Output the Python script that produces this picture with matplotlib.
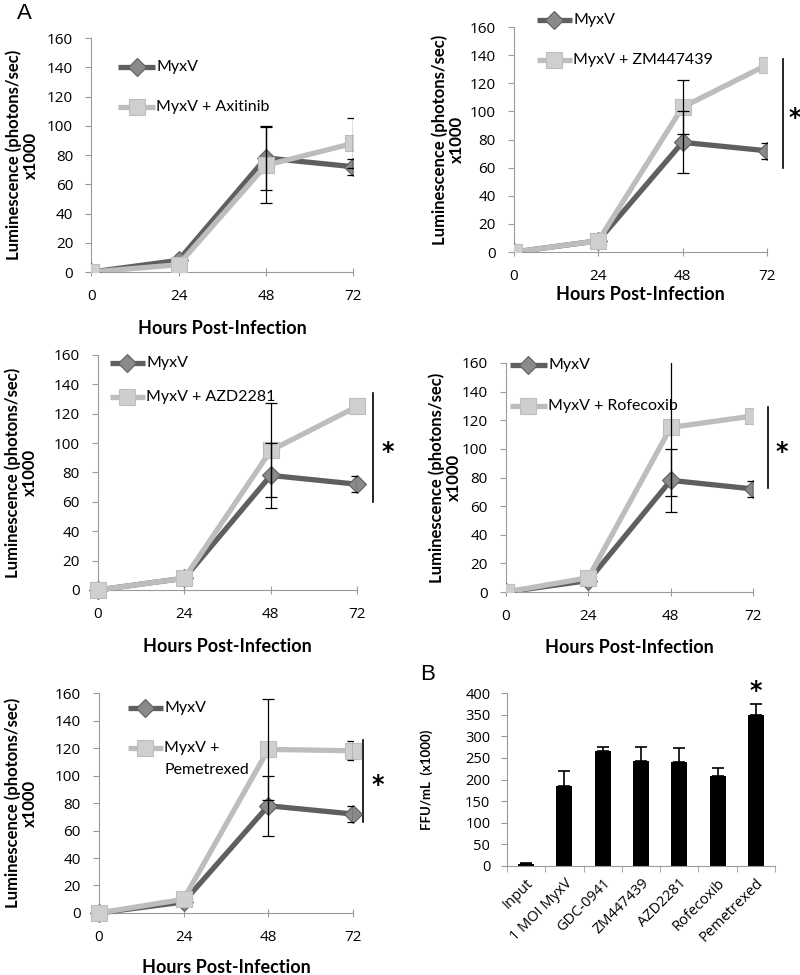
import matplotlib.pyplot as plt
import matplotlib.transforms as mtransforms
import numpy as np

plt.rcParams['font.family'] = ['Lato', 'DejaVu Sans']

hours = [0, 24, 48, 72]
myxv = [0, 8, 78, 72]
myxv_err = [0, 0, 22, 5.5]

drug_names = ['MyxV + Axitinib', 'MyxV + ZM447439', 'MyxV + AZD2281',
              'MyxV + Rofecoxib', 'MyxV +\nPemetrexed']
drug_values = [
    [0, 5, 73, 88],
    [0, 8, 103, 133],
    [0, 8, 95, 125],
    [0, 10, 115, 123],
    [0, 10, 119, 118],
]
drug_errs = [
    [0, 0, 26, 17],
    [0, 0, 19, 0],
    [0, 0, 32, 0],
    [0, 0, 48, 0],
    [0, 0, 37, 7],
]
# significance bar (y range) per panel, None = no star
sig_ranges = [None, (60, 137), (60, 134), (73, 129), (66, 126)]

bar_labels = ['Input', '1 MOI MyxV', 'GDC-0941', 'ZM447439', 'AZD2281',
              'Rofecoxib', 'Pemetrexed']
ffu = [5, 185, 265, 243, 241, 209, 350]
ffu_err = [2, 35, 11, 33, 32, 17, 24]

DARK = '#5f5f5f'
DARK_MK = '#8a8a8a'
LIGHT = '#bdbdbd'
LIGHT_MK = '#cfcfcf'
SPINE = '#9a9a9a'
TICKFONT = 'Open Sans'

fig = plt.figure(figsize=(8, 9.75), dpi=100)

# axes rects [left, bottom, width, height]
rects = [
    [0.114, 0.721, 0.3275, 0.240],
    [0.6425, 0.7415, 0.316, 0.2308],
    [0.1225, 0.3949, 0.324, 0.241],
    [0.6325, 0.3928, 0.309, 0.2349],
    [0.12375, 0.0636, 0.3175, 0.2256],
]
# legend layout: x0, x1, y_myxv, y_drug (axes fraction)
leg_pos = [
    (0.103, 0.244, 0.876, 0.705),
    (0.091, 0.229, 1.031, 0.853),
    (0.046, 0.181, 0.966, 0.821),
    (0.016, 0.166, 0.991, 0.812),
    (0.114, 0.252, 0.932, 0.750),
]
ylab_x = [-0.20, -0.194, -0.232, -0.178, -0.24]
xlab_y = [-0.205, -0.15, -0.205, -0.205, -0.21]
line_x = [None, 1.063, 1.062, 1.061, 1.039]
star_x = [None, 1.11, 1.116, 1.117, 1.098]
clip_first = [True, True, False, True, False]


def leg_entry(ax, x0, x1, y, color, mcolor, marker, ms, label):
    ax.plot([x0, x1], [y, y], color=color, lw=3.8, transform=ax.transAxes,
            clip_on=False, solid_capstyle='butt')
    ax.plot([(x0 + x1) / 2], [y], marker=marker, ms=ms, mfc=mcolor,
            mec=color, mew=0.8, transform=ax.transAxes, clip_on=False)
    ax.text(x1 + 0.005, y, label, transform=ax.transAxes, fontsize=11.5,
            va='center', ha='left')


def err_bars(ax, xs, ys, es):
    keep = [k for k in range(len(es)) if es[k] > 0]
    ax.errorbar([xs[k] for k in keep], [ys[k] for k in keep],
                yerr=[es[k] for k in keep], fmt='none', ecolor='black',
                elinewidth=0.9, capsize=4, capthick=0.9, zorder=5)


for i in range(5):
    ax = fig.add_axes(rects[i])
    vals = drug_values[i]

    ax.plot(hours, myxv, color=DARK, lw=3.8, marker='D', ms=9, mfc=DARK_MK,
            mec=DARK, mew=0.8, zorder=3, clip_on=clip_first[i])
    ax.plot(hours, vals, color=LIGHT, lw=3.8, marker='s', ms=12, mfc=LIGHT_MK,
            mec=LIGHT, mew=0.8, zorder=4, clip_on=clip_first[i])
    err_bars(ax, hours, myxv, myxv_err)
    err_bars(ax, hours, vals, drug_errs[i])

    ax.set_xlim(0, 72)
    ax.set_ylim(0, 160)
    ax.set_xticks(hours)
    ax.set_yticks(range(0, 161, 20))
    ax.tick_params(labelsize=11, color=SPINE, length=4)
    ax.tick_params(axis='y', pad=9)
    ax.tick_params(axis='x', direction='inout', length=6, pad=9)
    for lab in ax.get_xticklabels() + ax.get_yticklabels():
        lab.set_family(TICKFONT)
    for s in ['top', 'right']:
        ax.spines[s].set_visible(False)
    for s in ['left', 'bottom']:
        ax.spines[s].set_color(SPINE)

    ax.set_ylabel('Luminescence (photons/sec)\nx1000', fontsize=12,
                  fontweight='bold', linespacing=1.05)
    ax.yaxis.set_label_coords(ylab_x[i], 0.5)
    ax.set_xlabel('Hours Post-Infection', fontsize=13, fontweight='bold')
    ax.xaxis.set_label_coords(0.5, xlab_y[i])

    x0, x1, ym, yd = leg_pos[i]
    leg_entry(ax, x0, x1, ym, DARK, DARK_MK, 'D', 9, 'MyxV')
    if '\n' in drug_names[i]:
        leg_entry(ax, x0, x1, yd, LIGHT, LIGHT_MK, 's', 12, 'MyxV +')
        ax.text(x1 + 0.005, yd - 0.1, 'Pemetrexed', transform=ax.transAxes,
                fontsize=11.5, va='center', ha='left')
    else:
        leg_entry(ax, x0, x1, yd, LIGHT, LIGHT_MK, 's', 12, drug_names[i])

    if sig_ranges[i] is not None:
        trans = mtransforms.blended_transform_factory(ax.transAxes, ax.transData)
        lo, hi = sig_ranges[i]
        ax.plot([line_x[i], line_x[i]], [lo, hi], color='black', lw=1.2,
                transform=trans, clip_on=False)
        ax.text(star_x[i], (lo + hi) / 2 - 3, '*', transform=trans,
                fontsize=17, fontweight='bold', ha='center', va='center',
                family='DejaVu Sans')

fig.text(0.031, 0.986, 'A', fontsize=16, family='Liberation Sans',
         ha='center', va='center')
fig.text(0.535, 0.308, 'B', fontsize=16, family='Liberation Sans',
         ha='center', va='center')

# bar panel
ax = fig.add_axes([0.63375, 0.1118, 0.335, 0.1774])
x = np.arange(len(bar_labels))
ax.bar(x, ffu, width=0.42, color='black', zorder=2)
ax.errorbar(x, ffu, yerr=[np.zeros(len(ffu)), ffu_err], fmt='none',
            ecolor='black', elinewidth=1.2, capsize=4, capthick=1.2)
ax.set_xlim(-0.5, len(bar_labels) - 0.5)
ax.set_ylim(0, 400)
ax.set_yticks(range(0, 401, 50))
ax.set_xticks(x)
ax.set_xticklabels(bar_labels, rotation=45, ha='right',
                   rotation_mode='anchor', fontsize=10.5, family=TICKFONT)
ax.set_xticks(np.arange(-0.5, len(bar_labels), 1), minor=True)
ax.tick_params(axis='x', which='major', length=0, pad=7)
ax.tick_params(axis='x', which='minor', length=4, color=SPINE)
ax.tick_params(axis='y', labelsize=10.5, color=SPINE, length=4, pad=8)
for lab in ax.get_yticklabels():
    lab.set_family(TICKFONT)
for s in ['top', 'right']:
    ax.spines[s].set_visible(False)
for s in ['left', 'bottom']:
    ax.spines[s].set_color(SPINE)
ax.set_ylabel('FFU/mL  (x1000)', fontsize=9.5, fontweight='bold')
ax.yaxis.set_label_coords(-0.276, 0.5)
ax.text(x[-1], ffu[-1] + ffu_err[-1] + 2, '*', fontsize=17, fontweight='bold',
        ha='center', va='bottom', family='DejaVu Sans')

fig.savefig('out.png', dpi=100)
